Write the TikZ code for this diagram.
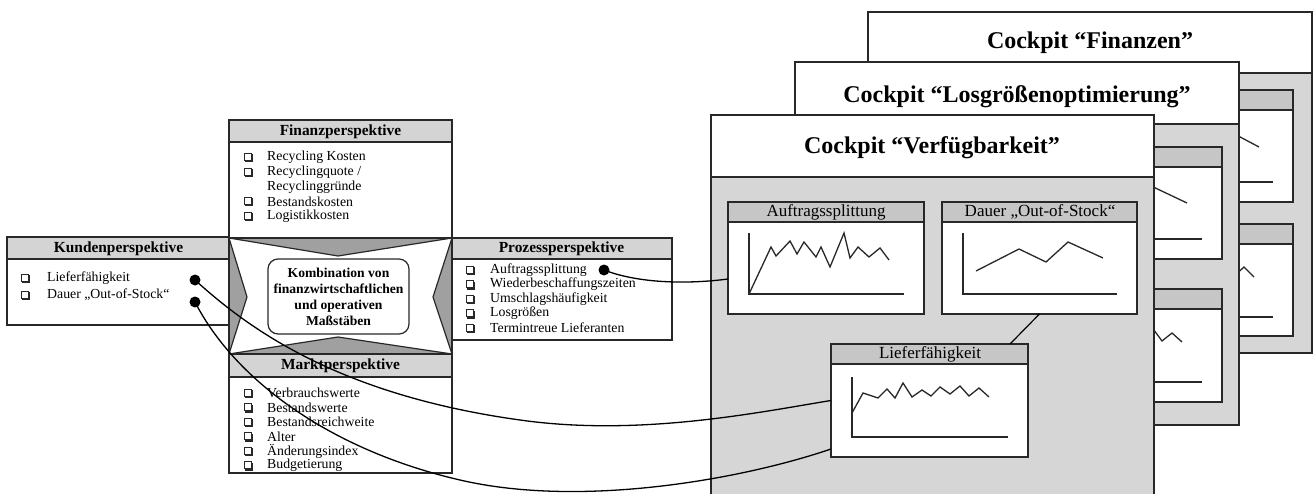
\documentclass[tikz,border=0pt]{standalone}
\usepackage{fontspec}
\setmainfont{Liberation Serif}
\usetikzlibrary{calc}
\definecolor{hdrgray}{RGB}{212,212,212}
\definecolor{bodygray}{RGB}{214,214,214}
\definecolor{chgray}{RGB}{198,198,198}
\definecolor{trigray}{RGB}{160,160,160}
\definecolor{edge}{RGB}{40,40,40}
\tikzset{
  box/.style={draw=edge, line width=1.2pt},
  thickbox/.style={draw=edge, line width=1.8pt},
  cline/.style={draw=edge, line width=1.3pt, line join=miter},
  conn/.style={draw=black, line width=1.3pt},
  chartbox/.style={draw=edge, line width=1.2pt, fill=white, inner sep=0pt, outer sep=0pt, anchor=north west},
  ctitle/.style={font=\fontsize{24}{27}\selectfont\bfseries, inner sep=0pt},
  ptitle/.style={font=\fontsize{15.4}{17}\selectfont\bfseries, inner sep=0pt},
  chtitle/.style={font=\fontsize{17}{19}\selectfont, inner sep=0pt},
  item/.style={font=\fontsize{13.8}{15}\selectfont, inner sep=0pt, anchor=west},
  ctext/.style={font=\fontsize{13.6}{16}\selectfont\bfseries, align=center, inner sep=0pt},
  dot/.style={circle, fill=black, inner sep=0pt, minimum size=11pt},
  chk/.pic={
    \draw[edge, line width=0.8pt, fill=white] (-4,-4) rectangle (3.2,3.2);
    \draw[edge, line width=1.6pt] (-3,4.2) -- (4.2,4.2) -- (4.2,-3);
  }
}
\begin{document}
\begin{tikzpicture}[x=1pt,y=-1pt]
\useasboundingbox (0,0) rectangle (1313,494);
\clip (0,0) rectangle (1313,494);
\fill[white] (0,0) rectangle (1313,494);

% ---------- Cockpit Finanzen (back) ----------
\draw[box, fill=bodygray] (868,12) rectangle (1312,353);
\draw[box, fill=white] (868,12) rectangle (1312,73);
\node[ctitle] (cf) at (1090,43) {Cockpit “Finanzen”};
\draw[box, fill=white] (1100,90) rectangle (1293,202);
\draw[box, fill=chgray] (1100,90) rectangle (1293,110);
\draw[cline] (1225,129) -- (1259,147);
\draw[cline] (1200,182) -- (1273,182);
\draw[box, fill=white] (1100,224) rectangle (1293,336);
\draw[box, fill=chgray] (1100,224) rectangle (1293,244);
\draw[cline] (1232,278) -- (1244,267) -- (1254,277);
\draw[cline] (1200,317) -- (1273,317);

% ---------- Cockpit Losgroessen (middle) ----------
\draw[box, fill=bodygray] (795,62) rectangle (1239,425);
\draw[box, fill=white] (795,62) rectangle (1239,124);
\node[ctitle] (cl) at (1017,97) {Cockpit “Losgrößenoptimierung”};
\draw[box, fill=white] (1030,147) rectangle (1222,259);
\draw[box, fill=chgray] (1030,147) rectangle (1222,167);
\draw[cline] (1130,176) -- (1187,203);
\draw[cline] (1130,239) -- (1202,239);
\draw[box, fill=white] (1030,289) rectangle (1222,402);
\draw[box, fill=chgray] (1030,289) rectangle (1222,309);
\draw[cline] (1145,318) -- (1162,341) -- (1172,333) -- (1182,342);
\draw[cline] (1130,382) -- (1202,382);

% ---------- Cockpit Verfuegbarkeit (front) ----------
\draw[box, fill=bodygray] (711,115) rectangle (1154,520);
\draw[box, fill=white] (711,115) rectangle (1154,177);
\node[ctitle] (cv) at (932,148) {Cockpit “Verfügbarkeit”};

% chart Auftragssplittung
\node[chartbox, minimum width=196pt, minimum height=112pt] (auf) at (728,202) {};
\draw[box, fill=chgray] (auf.north west) rectangle ($(auf.north east)+(0,20)$);
\node[chtitle] (auft) at (826,212) {Auftragssplittung};
\draw[cline] (749,233) -- (749,294) -- (904,294);
\draw[cline] (749,294) -- (771,247) -- (776,256) -- (790,241) -- (797,254) -- (804,242) -- (816,257) -- (821,247) -- (830,267) -- (844,233) -- (850,258) -- (858,247) -- (869,257) -- (880,248) -- (889,260);

% chart Dauer
\node[chartbox, minimum width=195pt, minimum height=112pt] (dau) at (942,202) {};
\draw[box, fill=chgray] (dau.north west) rectangle ($(dau.north east)+(0,20)$);
\node[chtitle] (daut) at (1040,212) {Dauer „Out-of-Stock“};
\draw[cline] (963,233) -- (963,294) -- (1117,294);
\draw[cline] (976,271) -- (1019,249) -- (1046,262) -- (1068,242) -- (1103,258);

% chart Lieferfaehigkeit
\node[chartbox, minimum width=197pt, minimum height=113pt] (lie) at (831,344) {};
\draw[box, fill=chgray] (lie.north west) rectangle ($(lie.north east)+(0,20)$);
\node[chtitle] (liet) at (930,354) {Lieferfähigkeit};
\draw[cline] (852,377) -- (852,437) -- (1008,437);
\draw[cline] (852,413) -- (863,393) -- (878,398) -- (887,389) -- (895,398) -- (903,383) -- (912,397) -- (922,390) -- (931,396) -- (940,387) -- (950,394) -- (960,386) -- (969,396) -- (979,388) -- (989,397);

\draw[conn, line width=1.2pt] (dau.south) -- ($(lie.north east)+(-18,0)$);

% ---------- Kundenperspektive ----------
\draw[box, fill=white] (7,237) rectangle (230,325);
\draw[box, fill=hdrgray] (7,237) rectangle (230,259);
\node[ptitle] (kt) at (118.5,248.5) {Kundenperspektive};
\pic at (25,278) {chk};
\node[item] (k1) at (47,278) {Lieferfähigkeit};
\pic at (25,295) {chk};
\node[item] (k2) at (47,295) {Dauer „Out-of-Stock“};

% ---------- Prozessperspektive ----------
\draw[box, fill=white] (451,238) rectangle (672,340);
\draw[box, fill=hdrgray] (451,238) rectangle (672,259);
\node[ptitle] (pt) at (561.5,249) {Prozessperspektive};
\pic at (470,270) {chk};
\node[item] (p1) at (490,270) {Auftragssplittung};
\pic at (470,284.5) {chk};
\node[item] (p2) at (490,284.5) {Wiederbeschaffungszeiten};
\pic at (470,299) {chk};
\node[item] (p3) at (490,299) {Umschlagshäufigkeit};
\pic at (470,313.5) {chk};
\node[item] (p4) at (490,313.5) {Losgrößen};
\pic at (470,328) {chk};
\node[item] (p5) at (490,328) {Termintreue Lieferanten};

% ---------- Finanzperspektive ----------
\draw[box, fill=white] (229,120) rectangle (452,238);
\draw[box, fill=hdrgray] (229,120) rectangle (452,142);
\node[ptitle] (ft) at (340.5,131.5) {Finanzperspektive};
\pic at (248,157.5) {chk};
\node[item] (f1) at (267,157.5) {Recycling Kosten};
\pic at (248,172.5) {chk};
\node[item] (f2) at (267,172.5) {Recyclingquote /};
\node[item] (f3) at (267,187) {Recyclinggründe};
\pic at (248,201.5) {chk};
\node[item] (f4) at (267,201.5) {Bestandskosten};
\pic at (248,216) {chk};
\node[item] (f5) at (267,216) {Logistikkosten};

% ---------- Marktperspektive ----------
\draw[box, fill=white] (229,354) rectangle (452,473);
\draw[box, fill=hdrgray] (229,354) rectangle (452,377);
\node[ptitle] (mt) at (340.5,366) {Marktperspektive};
\pic at (248,393) {chk};
\node[item] (m1) at (267,393) {Verbrauchswerte};
\pic at (248,407.5) {chk};
\node[item] (m2) at (267,407.5) {Bestandswerte};
\pic at (248,422) {chk};
\node[item] (m3) at (267,422) {Bestandsreichweite};
\pic at (248,436.5) {chk};
\node[item] (m4) at (267,436.5) {Alter};
\pic at (248,451) {chk};
\node[item] (m5) at (267,451) {Änderungsindex};
\pic at (248,465.5) {chk};
\node[item] (m6) at (267,465.5) {Budgetierung};

% ---------- center ----------
\fill[trigray] (229,238) rectangle (452,354);
\draw[box, fill=white] (229,238) -- (338,256) -- (452,238) -- (433,297) -- (452,354) -- (338,337) -- (229,354) -- (247,297) -- cycle;
\draw[thickbox] (229,238) rectangle (452,354);
\draw[box, fill=white, rounded corners=10pt] (268,259) rectangle (409,334);
\node[ctext] (ct) at (338.5,296.5) {Kombination von\\finanzwirtschaftlichen\\und operativen\\Maßstäben};

% ---------- connectors ----------
\node[dot] (dk1) at (195,280) {};
\node[dot] (dk2) at (195,302) {};
\node[dot] (dp1) at (604,270) {};
\draw[conn] (dk1.center) .. controls (250,330) and (340,395) .. (520,420) .. controls (640,437) and (760,412) .. (lie.west);
\draw[conn] (dk2.center) .. controls (235,380) and (330,450) .. (460,480) .. controls (580,508) and (740,480) .. ($(lie.south west)+(0,-8)$);
\draw[conn] (dp1.center) .. controls (640,284) and (690,284) .. ($(auf.south west)+(0,-35)$);
\end{tikzpicture}
\end{document}
